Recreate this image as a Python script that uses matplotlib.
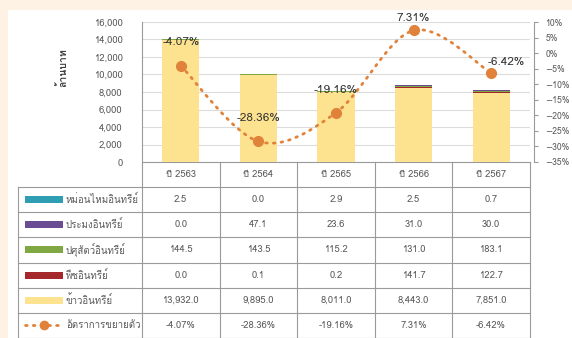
import numpy as np
import matplotlib
matplotlib.use("Agg")
import matplotlib.pyplot as plt
from matplotlib import font_manager as fm
from matplotlib.ft2font import FT2Font
from matplotlib.patches import Rectangle, PathPatch
from matplotlib.path import Path
from matplotlib.lines import Line2D

# ---- data ----
years = ["ปี 2563", "ปี 2564", "ปี 2565", "ปี 2566", "ปี 2567"]
silk = [2.5, 0.0, 2.9, 2.5, 0.7]
fishery = [0.0, 47.1, 23.6, 31.0, 30.0]
livestock = [144.5, 143.5, 115.2, 131.0, 183.1]
crops = [0.0, 0.1, 0.2, 141.7, 122.7]
rice = [13932.0, 9895.0, 8011.0, 8443.0, 7851.0]
growth = [-4.07, -28.36, -19.16, 7.31, -6.42]

series_names = ["หม่อนไหมอินทรีย์", "ประมงอินทรีย์", "ปศุสัตว์อินทรีย์", "พืชอินทรีย์", "ข้าวอินทรีย์"]
growth_name = "อัตราการขยายตัว"
y_label = "ล้านบาท"

C_SILK = "#2f9db2"
C_FISH = "#6a4c93"
C_LIVE = "#7fa843"
C_CROP = "#a4282b"
C_RICE = "#fde28f"
C_LINE = "#e0823a"
BG = "#fdf2e3"
TXT = "#595959"
GRID = "#dcdcdc"
TBL = "#9a9a9a"


def find_thai_font():
    # pick the first installed family that actually has Thai glyphs
    for f in fm.fontManager.ttflist:
        try:
            cmap = FT2Font(f.fname).get_charmap()
        except Exception:
            continue
        if 0x0E01 in cmap and 0x0E34 in cmap:
            return f.name
    return None


thai = find_thai_font()
fams = ([thai] if thai else []) + ["DejaVu Sans"]
plt.rcParams["font.family"] = fams

W, H = 572, 338
fig = plt.figure(figsize=(W / 100, H / 100), dpi=100)
fig.patch.set_facecolor(BG)

# white panel behind everything
panel = fig.add_axes([8 / W, 0, 1 - 8 / W, 1 - 10 / H], zorder=-5)
panel.set_facecolor("white")
panel.set_xticks([])
panel.set_yticks([])
for s in panel.spines.values():
    s.set_visible(False)

# ---- chart area ----
L, R, T, B = 142, 530, 22, 162
ax = fig.add_axes([L / W, 1 - B / H, (R - L) / W, (B - T) / H])
ax.set_facecolor("none")
x = np.arange(len(years))

stack = [(rice, C_RICE), (crops, C_CROP), (livestock, C_LIVE), (fishery, C_FISH), (silk, C_SILK)]
bottom = np.zeros(len(years))
for vals, col in stack:
    ax.bar(x, vals, bottom=bottom, width=0.48, color=col, edgecolor="none", zorder=2)
    bottom += np.array(vals)

ax.set_xlim(-0.5, len(years) - 0.5)
ax.set_ylim(0, 16000)
ax.set_yticks(np.arange(0, 16001, 2000))
ax.yaxis.set_major_formatter(matplotlib.ticker.StrMethodFormatter("{x:,.0f}"))
ax.set_xticks([])
ax.tick_params(axis="y", length=0, pad=14, labelsize=6.8, labelcolor=TXT)
ax.grid(axis="y", color=GRID, lw=0.8, zorder=0)
ax.set_axisbelow(True)
for s in ["top", "right", "bottom"]:
    ax.spines[s].set_visible(False)
ax.spines["left"].set_color(TBL)
ax.spines["left"].set_linewidth(0.8)
fig.text(62 / W, 1 - 68 / H, y_label, rotation=90, ha="center", va="center",
         fontsize=7.5, fontweight="bold", color="#404040")

# ---- growth line on secondary axis ----
ax2 = ax.twinx()
ax2.set_ylim(-35, 10)
ax2.set_yticks(np.arange(-35, 11, 5))
ax2.yaxis.set_major_formatter(matplotlib.ticker.StrMethodFormatter("{x:.0f}%"))
ax2.tick_params(axis="y", direction="out", length=3, color=TBL, pad=5,
                labelsize=6.2, labelcolor=TXT)
for s in ["top", "left", "bottom"]:
    ax2.spines[s].set_visible(False)
ax2.spines["right"].set_color(TBL)
ax2.spines["right"].set_linewidth(0.8)
ax2.spines["right"].set_position(("outward", 3))

# smooth curve through the points (Catmull-Rom as cubic Bezier segments)
pts = np.column_stack([x, growth]).astype(float)
verts = [tuple(pts[0])]
codes = [Path.MOVETO]
for i in range(len(pts) - 1):
    p0 = pts[i - 1] if i > 0 else pts[i]
    p1, p2 = pts[i], pts[i + 1]
    p3 = pts[i + 2] if i + 2 < len(pts) else pts[i + 1]
    c1 = p1 + (p2 - p0) / 6
    c2 = p2 - (p3 - p1) / 6
    verts += [tuple(c1), tuple(c2), tuple(p2)]
    codes += [Path.CURVE4] * 3
curve = PathPatch(Path(verts, codes), facecolor="none", edgecolor=C_LINE, lw=2,
                  linestyle=(0, (0.6, 2.2)), capstyle="round", zorder=3)
ax2.add_patch(curve)
ax2.plot(x, growth, ls="none", marker="o", ms=7, color=C_LINE, zorder=4)

label_offsets = [(0, 17), (0, 17), (0, 16), (0, 9), (11, 8)]
for xi, g, (dx, dy) in zip(x, growth, label_offsets):
    ax2.annotate(f"{g:.2f}%", (xi, g), xytext=(dx, dy), textcoords="offset points",
                 ha="center", va="center", fontsize=8.5, color="#333333", zorder=5)

# ---- data table ----
tab = fig.add_axes([0, 0, 1, 1], zorder=-1)
tab.set_xlim(0, W)
tab.set_ylim(H, 0)
tab.axis("off")

col_w = (R - L) / len(years)
head_top, head_bot = 162, 187
row_h = (H - head_bot) / 6
leg_left = 18

# header
for i, yr in enumerate(years):
    cx = L + (i + 0.5) * col_w
    tab.text(cx, (head_top + head_bot) / 2, yr, ha="center", va="center", fontsize=6.8, color=TXT)
tab.plot([L, R], [head_top, head_top], color=TBL, lw=0.8)
for i in range(len(years) + 1):
    tab.plot([L + i * col_w] * 2, [head_top, H], color=TBL, lw=0.8)
tab.plot([leg_left, leg_left], [head_bot, H], color=TBL, lw=0.8)

rows = [silk, fishery, livestock, crops, rice]
colors = [C_SILK, C_FISH, C_LIVE, C_CROP, C_RICE]
for r in range(7):
    yy = head_bot + r * row_h
    tab.plot([leg_left, R], [yy, yy], color=TBL, lw=0.8)

for r, (vals, col, name) in enumerate(zip(rows, colors, series_names)):
    cy = head_bot + (r + 0.5) * row_h
    tab.add_patch(Rectangle((25, cy - 3.5), 38, 7, facecolor=col, edgecolor="none"))
    tab.text(66, cy, name, ha="left", va="center", fontsize=7, color=TXT)
    for i, v in enumerate(vals):
        tab.text(L + (i + 0.5) * col_w, cy, f"{v:,.1f}", ha="center", va="center",
                 fontsize=6.8, color=TXT)

cy = head_bot + 5.5 * row_h
tab.add_line(Line2D([25, 63], [cy, cy], color=C_LINE, lw=2, linestyle=(0, (0.6, 2.2)),
                    dash_capstyle="round"))
tab.plot([44], [cy], marker="o", ms=6, color=C_LINE)
tab.text(66, cy, growth_name, ha="left", va="center", fontsize=7, color=TXT)
for i, g in enumerate(growth):
    tab.text(L + (i + 0.5) * col_w, cy, f"{g:.2f}%", ha="center", va="center",
             fontsize=6.8, color=TXT)

fig.savefig("out.png", dpi=100, facecolor=BG)
